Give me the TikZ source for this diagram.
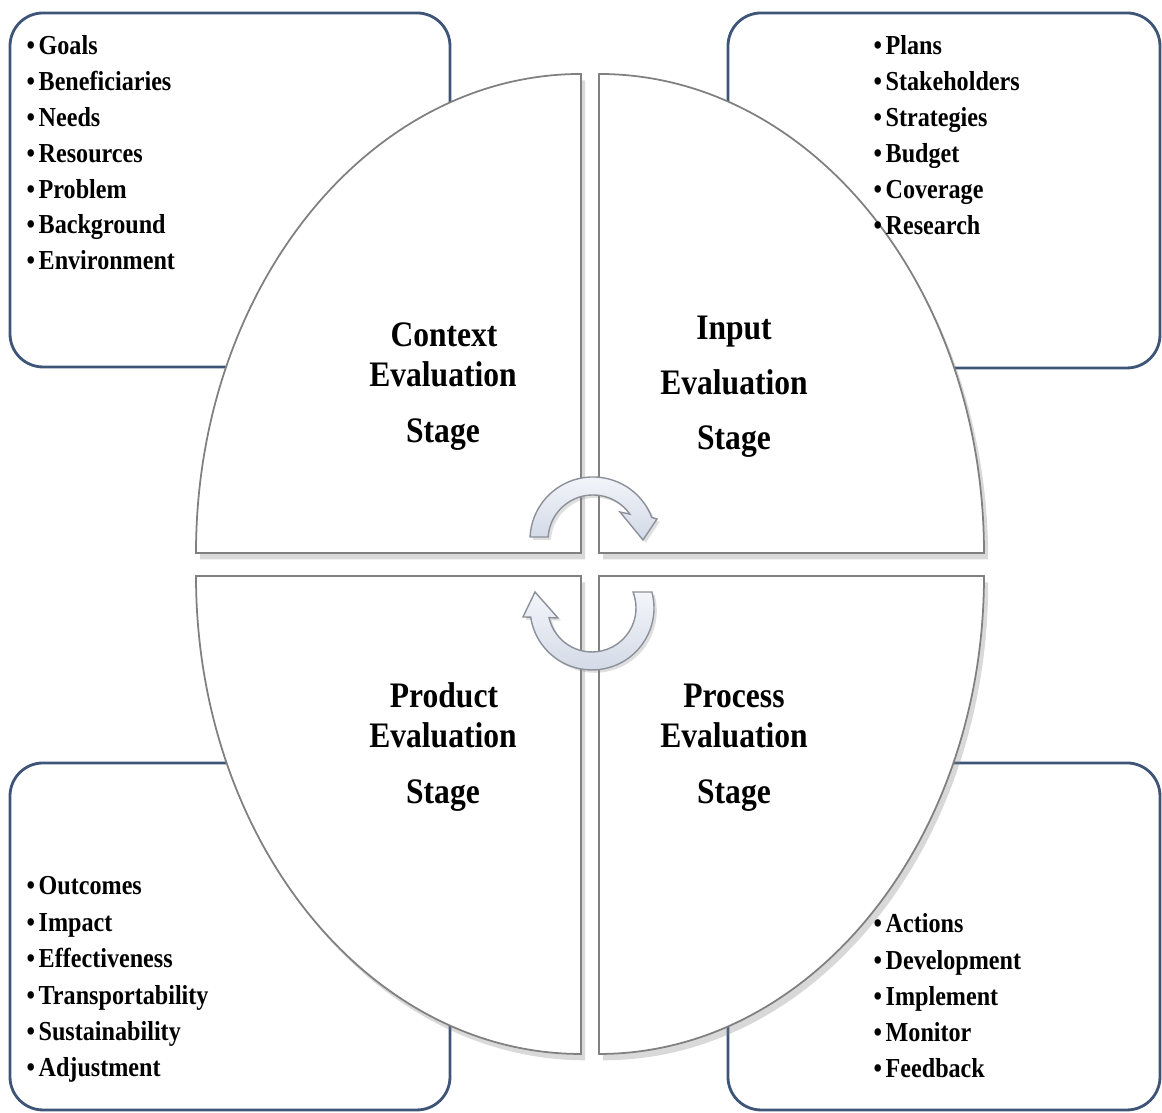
\documentclass[tikz,border=0pt]{standalone}
\usepackage{fontspec}
\newfontfamily\cond{Liberation Serif}[FakeStretch=0.88]
\usetikzlibrary{shadows}
\definecolor{boxline}{HTML}{3E5578}
\definecolor{qline}{HTML}{808080}
\definecolor{arrtop}{HTML}{F3F5FA}
\definecolor{arrbot}{HTML}{D2D9E6}
\definecolor{arrline}{HTML}{8C9099}
\begin{document}
\begin{tikzpicture}[x=0.01cm,y=0.01cm,
  infobox/.style={draw=boxline, line width=0.8pt, rounded corners=9.4pt, fill=white},
  quarter/.style={draw=qline, line width=0.5pt, fill=white,
    drop shadow={shadow xshift=1.2pt, shadow yshift=-1.8pt, opacity=0.3}},
  cyc/.style={draw=arrline, line width=0.4pt, top color=arrtop, bottom color=arrbot,
    drop shadow={shadow xshift=0.8pt, shadow yshift=-0.8pt, opacity=0.25}},
  item/.style={anchor=base west, inner sep=0pt, font=\cond\bfseries\fontsize{7.8}{9}\selectfont},
  stage/.style={anchor=base, inner sep=0pt, font=\cond\bfseries\fontsize{10.2}{12}\selectfont}]
\useasboundingbox (0,0) rectangle (1162,1113);
% information boxes
\draw[infobox] (10,746) rectangle (450,1100);
\draw[infobox] (728,745) rectangle (1160,1100);
\draw[infobox] (10,3) rectangle (450,350);
\draw[infobox] (728,3) rectangle (1160,350);
% ellipse quarters
\path[quarter] (581,560) -- (196,560) arc[start angle=180,end angle=90,x radius=385,y radius=479] -- cycle;
\path[quarter] (599,560) -- (599,1039) arc[start angle=90,end angle=0,x radius=385,y radius=479] -- cycle;
\path[quarter] (581,537) -- (196,537) arc[start angle=180,end angle=270,x radius=385,y radius=478] -- cycle;
\path[quarter] (599,537) -- (599,59) arc[start angle=270,end angle=360,x radius=385,y radius=478] -- cycle;
% cycle arrows
\begin{scope}[shift={(593,573)}]
\path[cyc] (177.3:63) arc[start angle=177.3,end angle=20.9,radius=63] -- (64,21) -- (50,0) -- (27,28)
  -- (35:45) arc[start angle=35,end angle=176.2,radius=45] -- cycle;
\end{scope}
\begin{scope}[shift={(592,505)}]
\path[cyc] (14.9:62) arc[start angle=14.9,end angle=-171.5,radius=62] -- (-69,-9) -- (-57,16) -- (-34,-10)
  -- (-167.3:44) arc[start angle=-167.3,end angle=21.3,radius=44] -- cycle;
\end{scope}
% stage labels
\node[stage] (ctxA) at (444,766) {Context};
\node[stage] (ctxB) at (443,726) {Evaluation};
\node[stage] (ctxC) at (443,670) {Stage};
\node[stage] (inpA) at (734,773) {Input};
\node[stage] (inpB) at (734,718) {Evaluation};
\node[stage] (inpC) at (734,663) {Stage};
\node[stage] (proA) at (444,405) {Product};
\node[stage] (proB) at (443,365) {Evaluation};
\node[stage] (proC) at (443,309) {Stage};
\node[stage] (prcA) at (734,405) {Process};
\node[stage] (prcB) at (734,365) {Evaluation};
\node[stage] (prcC) at (734,309) {Stage};
% lists
\foreach \t [count=\i] in {Goals,Beneficiaries,Needs,Resources,Problem,Background,Environment}
  \node[item] (ctx\i) at (26,{1093.8-35.8*\i}) {\textbullet\kern1pt\t};
\foreach \t [count=\i] in {Plans,Stakeholders,Strategies,Budget,Coverage,Research}
  \node[item] (inp\i) at (873,{1094-36*\i}) {\textbullet\kern1pt\t};
\foreach \t [count=\i] in {Outcomes,Impact,Effectiveness,Transportability,Sustainability,Adjustment}
  \node[item] (pro\i) at (26,{254.4-36.4*\i}) {\textbullet\kern1pt\t};
\foreach \t [count=\i] in {Actions,Development,Implement,Monitor,Feedback}
  \node[item] (prc\i) at (873,{216.25-36.25*\i}) {\textbullet\kern1pt\t};
\end{tikzpicture}
\end{document}
